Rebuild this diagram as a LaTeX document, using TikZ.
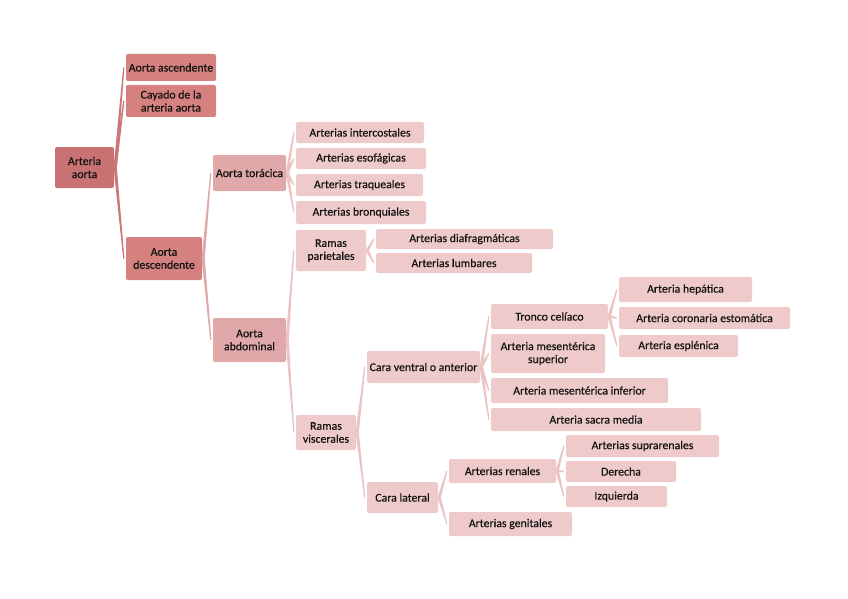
\documentclass[tikz,border=0pt]{standalone}
\usepackage{fontspec}
\setmainfont{Carlito}
\newfontfamily\bxfont[FakeBold=0.3]{Carlito}
\usetikzlibrary{calc}
\definecolor{cA}{HTML}{C97273}
\definecolor{cB}{HTML}{D4817F}
\definecolor{cC}{HTML}{E0A8A8}
\definecolor{cD}{HTML}{EECACA}
\definecolor{lnA}{HTML}{CC7677}
\definecolor{lnC}{HTML}{E0AAAA}
\definecolor{lnD}{HTML}{EBC3C3}
\definecolor{txt}{HTML}{111111}
\tikzset{
  bxbase/.style={rounded corners=2pt, inner sep=1pt, align=center, text=txt, font=\bxfont\fontsize{11.8}{13}\selectfont},
  lvA/.style={bxbase, fill=cA},
  lvB/.style={bxbase, fill=cB},
  lvC/.style={bxbase, fill=cC},
  lvD/.style={bxbase, fill=cD},
}
\newcommand\bx[7]{\node[#6, minimum width={#4pt-#2pt}, minimum height={#5pt-#3pt}] (#1) at ({(#2+#4)/2},{(#3+#5)/2}) {#7};}
\newcommand\conn[3]{%
  \coordinate (cs) at ([xshift=1pt]#1.east);
  \coordinate (ce) at ([xshift=-2pt]#2.west);
  \fill[#3] ($(cs)!1.6pt!90:(ce)$) -- ($(ce)!0.6pt!-90:(cs)$) -- ($(ce)!0.6pt!90:(cs)$) -- ($(cs)!1.6pt!-90:(ce)$) -- cycle;}
\begin{document}
\begin{tikzpicture}[x=1pt,y=-1pt]
\useasboundingbox (0,0) rectangle (848,599);
\bx{aorta}{55}{147}{114}{188}{lvA}{Arteria\\aorta}
\bx{asc}{126}{54}{216}{81}{lvB}{Aorta ascendente}
\bx{cay}{126}{85}{216}{117}{lvB}{Cayado de la\\arteria aorta}
\bx{desc}{126}{237}{202}{280}{lvB}{Aorta\\descendente}
\bx{tor}{213}{155}{286}{191}{lvC}{Aorta torácica}
\bx{abd}{213}{318}{286}{362}{lvC}{Aorta\\abdominal}
\bx{inter}{296}{122}{424}{143}{lvD}{Arterias intercostales}
\bx{esof}{296}{148}{426}{169}{lvD}{Arterias esofágicas}
\bx{traq}{296}{174}{423}{196}{lvD}{Arterias traqueales}
\bx{bronq}{296}{201}{426}{224}{lvD}{Arterias bronquiales}
\bx{pariet}{296}{230}{366}{271}{lvD}{Ramas\\parietales}
\bx{diaf}{376}{229}{553}{249}{lvD}{Arterias diafragmáticas}
\bx{lumb}{376}{253}{532}{273}{lvD}{Arterias lumbares}
\bx{visc}{296}{415}{356}{450}{lvD}{Ramas\\viscerales}
\bx{ventral}{367}{351}{480}{383}{lvD}{Cara ventral o anterior}
\bx{lateral}{367}{482}{438}{513}{lvD}{Cara lateral}
\bx{tronco}{491}{304}{608}{329}{lvD}{Tronco celíaco}
\bx{messup}{491}{334}{605}{373}{lvD}{Arteria mesentérica\\superior}
\bx{mesinf}{491}{378}{668}{403}{lvD}{Arteria mesentérica inferior}
\bx{sacra}{491}{408}{701}{431}{lvD}{Arteria sacra media}
\bx{hep}{619}{277}{752}{302}{lvD}{Arteria hepática}
\bx{coron}{619}{307}{790}{329}{lvD}{Arteria coronaria estomática}
\bx{espl}{619}{335}{738}{357}{lvD}{Arteria esplénica}
\bx{renal}{449}{459}{556}{483}{lvD}{Arterias renales}
\bx{genit}{449}{512}{572}{536}{lvD}{Arterias genitales}
\bx{supra}{566}{435}{719}{457}{lvD}{Arterias suprarenales}
\bx{der}{566}{461}{676}{482}{lvD}{Derecha}
\bx{izq}{566}{486}{667}{507}{lvD}{Izquierda}
\conn{aorta}{asc}{lnA}
\conn{aorta}{cay}{lnA}
\conn{aorta}{desc}{lnA}
\conn{desc}{tor}{lnC}
\conn{desc}{abd}{lnC}
\conn{tor}{inter}{lnD}
\conn{tor}{esof}{lnD}
\conn{tor}{traq}{lnD}
\conn{tor}{bronq}{lnD}
\conn{abd}{pariet}{lnD}
\conn{abd}{visc}{lnD}
\conn{pariet}{diaf}{lnD}
\conn{pariet}{lumb}{lnD}
\conn{visc}{ventral}{lnD}
\conn{visc}{lateral}{lnD}
\conn{ventral}{tronco}{lnD}
\conn{ventral}{messup}{lnD}
\conn{ventral}{mesinf}{lnD}
\conn{ventral}{sacra}{lnD}
\conn{tronco}{hep}{lnD}
\conn{tronco}{coron}{lnD}
\conn{tronco}{espl}{lnD}
\conn{lateral}{renal}{lnD}
\conn{lateral}{genit}{lnD}
\conn{renal}{supra}{lnD}
\conn{renal}{der}{lnD}
\conn{renal}{izq}{lnD}
\end{tikzpicture}
\end{document}
